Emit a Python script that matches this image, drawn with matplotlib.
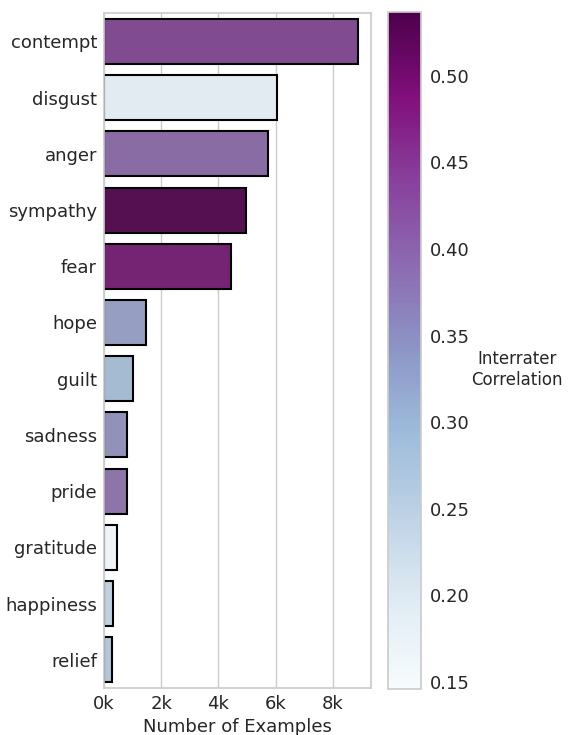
import numpy as np
import matplotlib
matplotlib.use('Agg')
import matplotlib.pyplot as plt
import seaborn as sns

# data
emotions = ['contempt', 'disgust', 'anger', 'sympathy', 'fear', 'hope',
            'guilt', 'sadness', 'pride', 'gratitude', 'happiness', 'relief']
counts = [8880, 6040, 5740, 4950, 4430, 1460, 1030, 810, 800, 470, 330, 270]
correlation = [0.44, 0.195, 0.40, 0.52, 0.48, 0.335, 0.295, 0.355, 0.39, 0.17, 0.25, 0.27]
cmin, cmax = 0.146, 0.537

sns.set_theme(style='whitegrid')
plt.rcParams['font.family'] = ['DejaVu Sans']

fig = plt.figure(figsize=(5.68, 7.35), dpi=100)
ax = fig.add_axes([0.183, 0.064, 0.47, 0.918])
cax = fig.add_axes([0.683, 0.063, 0.059, 0.921])

cmap = plt.get_cmap('BuPu')
norm = matplotlib.colors.Normalize(vmin=cmin, vmax=cmax)
colors = [sns.desaturate(cmap(norm(c)), 0.75) for c in correlation]

y = np.arange(len(emotions))
ax.barh(y, counts, height=0.8, color=colors, edgecolor='black', linewidth=1.5)
ax.set_yticks(y)
ax.set_yticklabels(emotions, fontsize=13)
ax.set_ylim(len(emotions) - 0.5, -0.5)
ax.set_xlim(0, max(counts) * 1.05)
ax.set_xticks([0, 2000, 4000, 6000, 8000])
ax.set_xticklabels(['0k', '2k', '4k', '6k', '8k'], fontsize=13)
ax.set_xlabel('Number of Examples', fontsize=13, labelpad=4)
ax.grid(axis='y', visible=False)
ax.tick_params(axis='both', length=0, pad=5)

sm = matplotlib.cm.ScalarMappable(norm=norm, cmap=cmap)
cb = fig.colorbar(sm, cax=cax)
ticks = [0.15, 0.20, 0.25, 0.30, 0.35, 0.40, 0.45, 0.50]
cb.set_ticks(ticks)
cb.ax.tick_params(labelsize=13, length=0, pad=6)
cb.ax.set_yticklabels(['%.2f' % t for t in ticks])
cb.outline.set_edgecolor('#cccccc')
cb.set_label('Interrater\nCorrelation', rotation=0, fontsize=12, labelpad=34)

fig.savefig('out.png', dpi=100)
